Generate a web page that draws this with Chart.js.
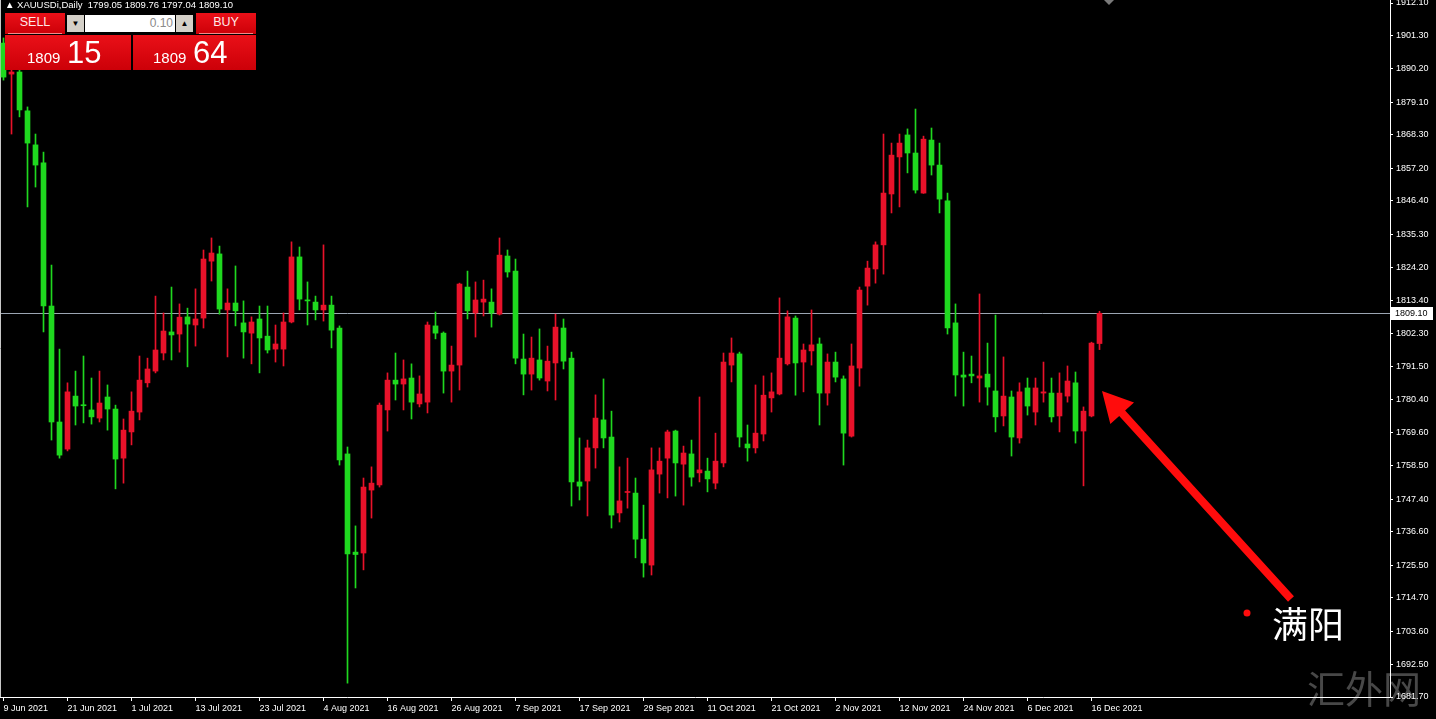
<!DOCTYPE html>
<html>
<head>
<meta charset="utf-8">
<title>XAUUSDi,Daily</title>
<script src="https://cdn.jsdelivr.net/npm/chart.js@4.4.1/dist/chart.umd.min.js"></script>
<style>
  html, body { margin: 0; padding: 0; background: #000; }
  #wrap { position: relative; width: 1436px; height: 719px; overflow: hidden; background: #000; }
  #chart { position: absolute; left: 0; top: 0; }
  .hdr { position: absolute; left: 5px; top: -1px; color: #fff; font: 9.5px "Liberation Sans", Arial, sans-serif; white-space: pre; }
  .box { position: absolute; font-family: "Liberation Sans", Arial, sans-serif; }
  .red { background: linear-gradient(#ea1018, #cc0008); }
  .btn { color: #ffe8e8; font-size: 12.5px; text-align: center; line-height: 19px; }
  .btn:after { content: ""; position: absolute; left: 3px; right: 3px; bottom: 0; height: 1px; background: #f38a8a; }
  .gray { background: #d4d0c8; color: #000; font-size: 8px; text-align: center; line-height: 17px; }
  .inp { background: #fff; color: #8a8a8a; font-size: 12px; text-align: right; line-height: 17px; padding-right: 2px; box-sizing: border-box; }
  .sm { position: absolute; color: #fff; font-size: 15px; top: 14px; }
  .bg { position: absolute; color: #fff; font-size: 31px; top: 0px; }
</style>
</head>
<body>
<div id="wrap">
  <canvas id="chart" width="1436" height="719"></canvas>
  <div class="hdr">▲ XAUUSDi,Daily  1799.05 1809.76 1797.04 1809.10</div>
  <div class="box red btn" style="left:5px;top:13px;width:60px;height:21px;">SELL</div>
  <div class="box" style="left:65px;top:13px;width:131px;height:21px;background:#000;"></div>
  <div class="box gray" style="left:67px;top:15px;width:17px;height:17px;">▼</div>
  <div class="box inp" style="left:85px;top:15px;width:90px;height:17px;">0.10</div>
  <div class="box gray" style="left:176px;top:15px;width:17px;height:17px;">▲</div>
  <div class="box red btn" style="left:196px;top:13px;width:60px;height:21px;">BUY</div>
  <div class="box red" style="left:5px;top:35px;width:126px;height:35px;">
    <span class="sm" style="left:22px;">1809</span><span class="bg" style="left:62px;">15</span>
  </div>
  <div class="box red" style="left:133px;top:35px;width:123px;height:35px;">
    <span class="sm" style="left:20px;">1809</span><span class="bg" style="left:60px;">64</span>
  </div>
</div>

<script>
// daily OHLC, 9 Jun 2021 .. 17 Dec 2021
const opens = [
  1898.8, 1888.5, 1889.2, 1876.3, 1865.0, 1859.0, 1811.5, 1773.0, 1764.0, 1781.6,
  1778.6, 1777.0, 1774.3, 1781.3, 1777.3, 1761.0, 1769.7, 1776.3, 1786.0, 1789.9,
  1795.9, 1802.9, 1802.2, 1807.9, 1805.2, 1807.5, 1826.4, 1828.8, 1810.2, 1812.5,
  1805.9, 1802.5, 1807.2, 1801.5, 1797.2, 1797.2, 1806.2, 1827.8, 1813.5, 1812.8,
  1810.2, 1811.8, 1804.2, 1762.4, 1729.8, 1729.5, 1750.4, 1752.1, 1777.0, 1786.9,
  1785.6, 1787.6, 1779.0, 1779.6, 1804.9, 1802.5, 1789.9, 1791.9, 1817.8, 1809.2,
  1812.8, 1812.8, 1808.8, 1828.1, 1823.1, 1793.9, 1788.9, 1793.6, 1786.6, 1792.6,
  1804.2, 1794.2, 1753.1, 1753.4, 1764.4, 1773.7, 1768.0, 1742.8, 1749.6, 1749.4,
  1734.1, 1725.5, 1755.7, 1761.0, 1770.0, 1759.0, 1762.4, 1756.1, 1756.7, 1752.7,
  1759.4, 1791.9, 1795.6, 1765.7, 1764.4, 1769.0, 1781.0, 1782.3, 1792.3, 1807.5,
  1792.9, 1796.6, 1798.9, 1782.6, 1792.9, 1787.3, 1768.3, 1790.9, 1818.1, 1823.8,
  1831.8, 1848.7, 1861.0, 1868.3, 1862.3, 1849.0, 1866.6, 1858.3, 1846.4, 1805.9,
  1788.6, 1788.9, 1787.6, 1788.9, 1783.3, 1775.0, 1781.3, 1767.7, 1784.3, 1776.3,
  1782.6, 1782.6, 1775.0, 1781.6, 1786.0, 1770.0, 1775.0, 1799.05
];
const highs = [
  1900.5, 1889.9, 1889.9, 1877.6, 1868.6, 1862.6, 1825.1, 1797.2, 1786.0, 1789.9,
  1794.9, 1787.6, 1789.9, 1785.3, 1778.6, 1774.0, 1783.0, 1794.9, 1794.2, 1814.8,
  1809.2, 1817.8, 1812.2, 1810.8, 1817.2, 1830.1, 1834.1, 1831.4, 1817.2, 1824.8,
  1813.2, 1807.9, 1811.5, 1811.5, 1805.2, 1809.2, 1832.8, 1831.1, 1819.5, 1814.8,
  1831.8, 1814.8, 1804.9, 1764.7, 1738.5, 1754.4, 1758.1, 1779.3, 1789.3, 1795.9,
  1793.6, 1792.3, 1788.3, 1806.2, 1809.5, 1802.9, 1798.2, 1819.1, 1823.1, 1819.5,
  1820.1, 1817.2, 1834.1, 1830.1, 1827.1, 1802.2, 1801.2, 1803.9, 1798.2, 1808.8,
  1807.2, 1796.2, 1767.7, 1767.0, 1782.0, 1787.3, 1776.6, 1758.1, 1761.0, 1754.4,
  1745.4, 1764.4, 1764.4, 1770.3, 1770.3, 1765.0, 1767.0, 1781.3, 1761.0, 1769.3,
  1795.9, 1800.9, 1796.2, 1772.0, 1785.3, 1788.3, 1789.3, 1814.2, 1809.9, 1808.2,
  1798.9, 1810.2, 1800.9, 1795.6, 1796.2, 1788.3, 1798.9, 1817.8, 1826.4, 1832.8,
  1868.6, 1865.6, 1868.6, 1870.3, 1876.9, 1867.9, 1870.6, 1865.6, 1849.0, 1812.2,
  1796.2, 1794.9, 1815.5, 1799.2, 1808.5, 1794.6, 1783.3, 1786.0, 1787.6, 1787.6,
  1792.9, 1787.6, 1789.3, 1791.6, 1789.6, 1778.0, 1799.5, 1809.76
];
const lows = [
  1886.5, 1868.6, 1874.3, 1844.4, 1851.0, 1802.9, 1767.0, 1761.0, 1763.4, 1772.0,
  1772.7, 1772.3, 1773.0, 1770.3, 1750.8, 1752.7, 1765.4, 1773.7, 1784.6, 1789.3,
  1793.6, 1793.6, 1796.2, 1791.3, 1798.2, 1804.2, 1819.8, 1808.8, 1794.6, 1804.9,
  1794.2, 1792.3, 1789.3, 1795.9, 1792.9, 1791.6, 1805.9, 1810.2, 1805.2, 1806.9,
  1806.5, 1797.6, 1758.7, 1686.3, 1717.9, 1723.9, 1741.1, 1751.4, 1770.0, 1780.3,
  1777.0, 1774.0, 1778.0, 1776.0, 1800.6, 1782.6, 1779.6, 1783.6, 1807.2, 1801.2,
  1808.2, 1804.5, 1808.5, 1821.1, 1792.3, 1782.0, 1783.6, 1786.9, 1783.3, 1780.3,
  1790.6, 1745.1, 1747.1, 1741.8, 1757.7, 1764.4, 1737.8, 1739.8, 1744.4, 1727.9,
  1721.5, 1722.2, 1749.4, 1747.8, 1748.4, 1745.4, 1751.7, 1753.1, 1749.8, 1750.8,
  1758.1, 1786.3, 1764.7, 1760.0, 1762.7, 1766.7, 1776.3, 1782.0, 1791.9, 1781.9,
  1783.0, 1791.9, 1772.0, 1778.6, 1786.3, 1758.7, 1768.0, 1784.9, 1811.8, 1819.1,
  1822.1, 1842.4, 1844.4, 1855.7, 1849.0, 1848.9, 1855.0, 1842.4, 1802.2, 1781.6,
  1778.3, 1786.0, 1779.6, 1778.6, 1769.7, 1771.7, 1761.7, 1766.0, 1775.3, 1772.0,
  1779.6, 1773.0, 1769.7, 1779.6, 1766.0, 1751.8, 1774.7, 1797.04
];
const closes = [
  1887.5, 1889.2, 1876.6, 1865.6, 1858.3, 1811.5, 1773.0, 1762.0, 1783.0, 1778.3,
  1778.4, 1774.7, 1779.3, 1777.3, 1760.7, 1770.3, 1776.6, 1786.9, 1790.6, 1796.9,
  1803.2, 1801.9, 1807.8, 1805.5, 1807.2, 1827.1, 1829.1, 1810.5, 1812.5, 1809.9,
  1802.9, 1806.2, 1800.9, 1796.9, 1798.9, 1806.2, 1827.8, 1813.8, 1813.2, 1810.2,
  1811.8, 1803.5, 1760.4, 1729.2, 1729.0, 1751.4, 1752.7, 1778.6, 1786.9, 1785.6,
  1787.3, 1779.6, 1782.3, 1805.2, 1802.5, 1789.9, 1791.9, 1818.8, 1809.9, 1813.5,
  1813.8, 1809.2, 1828.4, 1822.8, 1794.2, 1788.9, 1794.2, 1787.6, 1793.2, 1804.5,
  1793.2, 1753.1, 1751.7, 1764.4, 1774.3, 1767.7, 1742.1, 1746.8, 1749.9, 1734.1,
  1726.2, 1757.1, 1760.0, 1769.7, 1759.4, 1762.7, 1754.7, 1757.1, 1754.1, 1760.0,
  1792.9, 1795.9, 1768.0, 1764.4, 1769.3, 1781.9, 1783.0, 1794.2, 1807.9, 1792.6,
  1796.9, 1798.6, 1782.6, 1792.9, 1787.9, 1769.3, 1791.6, 1816.8, 1824.1, 1831.8,
  1849.0, 1861.6, 1865.6, 1862.3, 1850.0, 1866.9, 1858.3, 1847.0, 1804.2, 1788.6,
  1787.9, 1788.3, 1788.3, 1784.6, 1774.7, 1781.6, 1768.0, 1783.0, 1778.3, 1784.3,
  1783.0, 1774.7, 1782.6, 1786.6, 1770.0, 1776.6, 1799.2, 1809.10
];

// price scale labels (right) and date labels (bottom)
const priceTicks = [
  1912.10, 1901.30, 1890.20, 1879.10, 1868.30, 1857.20, 1846.40, 1835.30, 1824.20, 1813.40, 1802.30,
  1791.50, 1780.40, 1769.60, 1758.50, 1747.40, 1736.60, 1725.50, 1714.70, 1703.60, 1692.50, 1681.70
];
const dateTickBars = [0, 8, 16, 24, 32, 40, 48, 56, 64, 72, 80, 88, 96, 104, 112, 120, 128, 136];
const dateTickLabels = [
  '9 Jun 2021', '21 Jun 2021', '1 Jul 2021', '13 Jul 2021', '23 Jul 2021', '4 Aug 2021',
  '16 Aug 2021', '26 Aug 2021', '7 Sep 2021', '17 Sep 2021', '29 Sep 2021', '11 Oct 2021',
  '21 Oct 2021', '2 Nov 2021', '12 Nov 2021', '24 Nov 2021', '6 Dec 2021', '16 Dec 2021'
];

const UP = '#e8122a';    // close above open
const DOWN = '#1fd81f';  // close below open
const colors = closes.map((c, i) => c >= opens[i] ? UP : DOWN);
const lastPrice = closes[closes.length - 1];

function drawArrow(ctx, tx, ty, ex, ey, shaftW, headL, headW) {
  const dx = ex - tx, dy = ey - ty, len = Math.hypot(dx, dy);
  const ux = dx / len, uy = dy / len, nx = -uy, ny = ux;
  const bx = tx + ux * headL, by = ty + uy * headL;
  ctx.beginPath();
  ctx.moveTo(tx, ty);
  ctx.lineTo(bx + nx * headW, by + ny * headW);
  ctx.lineTo(bx + nx * shaftW / 2, by + ny * shaftW / 2);
  ctx.lineTo(ex + nx * shaftW / 2, ey + ny * shaftW / 2);
  ctx.lineTo(ex - nx * shaftW / 2, ey - ny * shaftW / 2);
  ctx.lineTo(bx - nx * shaftW / 2, by - ny * shaftW / 2);
  ctx.lineTo(bx - nx * headW, by - ny * headW);
  ctx.closePath();
  ctx.fill();
}

const decorations = {
  id: 'decorations',
  beforeDraw(chart) {
    const ctx = chart.ctx;
    ctx.save();
    ctx.fillStyle = '#000';
    ctx.fillRect(0, 0, chart.width, chart.height);
    // watermark
    ctx.font = '38px "Noto Sans CJK SC"';
    ctx.fillStyle = 'rgba(110,110,110,0.65)';
    ctx.textBaseline = 'middle';
    ctx.fillText('汇外网', 1307, 689);
    ctx.restore();
  },
  beforeDatasetsDraw(chart) {
    const {ctx, chartArea, scales: {y}} = chart;
    const py = Math.round(y.getPixelForValue(lastPrice)) + 0.5;
    ctx.save();
    ctx.strokeStyle = '#9ba5b2';
    ctx.lineWidth = 1;
    ctx.beginPath();
    ctx.moveTo(chartArea.left, py);
    ctx.lineTo(chartArea.right, py);
    ctx.stroke();
    // left border
    ctx.strokeStyle = '#c8c8c8';
    ctx.beginPath();
    ctx.moveTo(0.5, chartArea.top);
    ctx.lineTo(0.5, chartArea.bottom);
    ctx.stroke();
    ctx.restore();
  },
  afterDraw(chart) {
    const {ctx, chartArea, scales: {y}} = chart;
    const py = Math.round(y.getPixelForValue(lastPrice));
    ctx.save();
    // current price tag
    ctx.fillStyle = '#fff';
    ctx.fillRect(chartArea.right + 1, py - 6, 42, 13);
    ctx.fillStyle = '#000';
    ctx.font = '9px "Liberation Sans"';
    ctx.textBaseline = 'middle';
    ctx.fillText(lastPrice.toFixed(2), chartArea.right + 5, py + 0.5);
    // chart shift marker
    ctx.fillStyle = '#7a7a7a';
    ctx.beginPath();
    ctx.moveTo(1104, 0); ctx.lineTo(1114, 0); ctx.lineTo(1109, 5); ctx.closePath();
    ctx.fill();
    // annotation
    ctx.fillStyle = '#ff0c0c';
    drawArrow(ctx, 1102, 391, 1291, 599, 8, 30, 16);
    ctx.beginPath();
    ctx.arc(1247, 613, 3.5, 0, Math.PI * 2);
    ctx.fill();
    ctx.fillStyle = '#fff';
    ctx.font = '36px "Noto Sans CJK SC"';
    ctx.textBaseline = 'middle';
    ctx.fillText('满阳', 1272, 624);
    ctx.restore();
  }
};

new Chart(document.getElementById('chart'), {
  type: 'bar',
  data: {
    datasets: [
      {
        label: 'range',
        data: highs.map((h, i) => ({x: i, y: [lows[i], h]})),
        backgroundColor: colors,
        barThickness: 1,
        minBarLength: 1,
        grouped: false,
        order: 2
      },
      {
        label: 'body',
        data: opens.map((o, i) => ({x: i, y: [o, closes[i]]})),
        backgroundColor: colors,
        barThickness: 5,
        minBarLength: 1,
        grouped: false,
        order: 1
      }
    ]
  },
  options: {
    responsive: false,
    animation: false,
    devicePixelRatio: 1,
    layout: { padding: 0 },
    plugins: { legend: { display: false }, tooltip: { enabled: false } },
    scales: {
      x: {
        type: 'linear',
        position: 'bottom',
        offset: false,
        min: -0.4375,
        max: 173.3125,
        afterBuildTicks(scale) { scale.ticks = dateTickBars.map(v => ({value: v})); },
        afterFit(scale) { scale.height = 22; scale.paddingLeft = 0; scale.paddingRight = 0; },
        grid: { offset: false, drawOnChartArea: false, drawTicks: true, tickLength: 4, color: '#fff' },
        border: { color: '#fff', width: 1 },
        ticks: {
          color: '#fff',
          font: { family: 'Liberation Sans', size: 9 },
          align: 'start',
          maxRotation: 0,
          autoSkip: false,
          padding: 2,
          callback: (v, i) => dateTickLabels[i]
        }
      },
      y: {
        position: 'right',
        min: 1681.7,
        max: 1913.1,
        afterBuildTicks(scale) { scale.ticks = priceTicks.map(v => ({value: v})); },
        afterFit(scale) { scale.width = 46; scale.paddingTop = 0; scale.paddingBottom = 0; },
        grid: { drawOnChartArea: false, drawTicks: true, tickLength: 3, color: '#fff' },
        border: { color: '#fff', width: 1 },
        ticks: {
          color: '#fff',
          font: { family: 'Liberation Sans', size: 9 },
          padding: 3,
          autoSkip: false,
          callback: v => v.toFixed(2)
        }
      }
    }
  },
  plugins: [decorations]
});
</script>
</body>
</html>
